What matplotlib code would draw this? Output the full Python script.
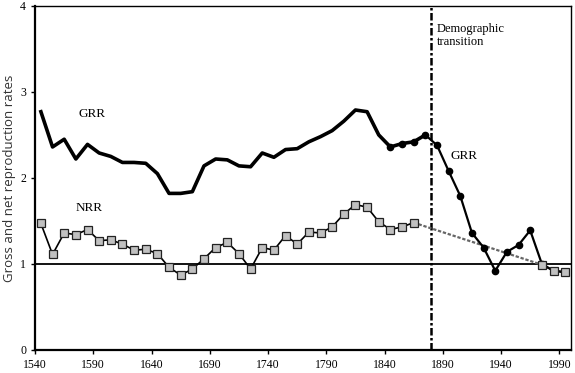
import matplotlib
matplotlib.use("Agg")
import matplotlib.pyplot as plt

# GRR (gross reproduction rate)
grr_years = [1545, 1555, 1565, 1575, 1585, 1595, 1605, 1615, 1625, 1635, 1645, 1655, 1665, 1675,
             1685, 1695, 1705, 1715, 1725, 1735, 1745, 1755, 1765, 1775, 1785, 1795, 1805, 1815,
             1825, 1835, 1845, 1855, 1865, 1875, 1885, 1895, 1905, 1915, 1925, 1935, 1945, 1955,
             1965, 1975, 1985, 1995]
grr_values = [2.77, 2.36, 2.45, 2.22, 2.39, 2.29, 2.25, 2.18, 2.18, 2.17, 2.05, 1.82, 1.82, 1.84,
              2.14, 2.22, 2.21, 2.14, 2.13, 2.29, 2.24, 2.33, 2.34, 2.42, 2.48, 2.55, 2.66, 2.79,
              2.77, 2.50, 2.36, 2.40, 2.42, 2.50, 2.38, 2.08, 1.79, 1.36, 1.19, 0.92, 1.14, 1.22,
              1.39, 1.00, 0.92, 0.90]
grr_marker_from = 1845

# NRR (net reproduction rate)
nrr_years = [1545, 1555, 1565, 1575, 1585, 1595, 1605, 1615, 1625, 1635, 1645, 1655, 1665, 1675,
             1685, 1695, 1705, 1715, 1725, 1735, 1745, 1755, 1765, 1775, 1785, 1795, 1805, 1815,
             1825, 1835, 1845, 1855, 1865]
nrr_values = [1.47, 1.11, 1.36, 1.34, 1.40, 1.27, 1.28, 1.23, 1.16, 1.17, 1.12, 0.96, 0.87, 0.94,
              1.06, 1.19, 1.25, 1.12, 0.94, 1.19, 1.16, 1.33, 1.23, 1.37, 1.36, 1.43, 1.58, 1.69,
              1.66, 1.49, 1.40, 1.43, 1.48]
nrr_late_years = [1975, 1985, 1995]
nrr_late_values = [0.99, 0.92, 0.91]

transition_year = 1880
xticks = [1540, 1590, 1640, 1690, 1740, 1790, 1840, 1890, 1940, 1990]
yticks = [0, 1, 2, 3, 4]

serif = ["Liberation Serif", "DejaVu Serif"]

fig = plt.figure(figsize=(5.75, 3.73), dpi=100)
ax = fig.add_axes([0.061, 0.062, 0.932, 0.922])

ax.axhline(1, color="black", lw=1.3, zorder=1)
ax.axvline(transition_year, color="black", lw=1.8, linestyle=(0, (3, 1, 1, 1)), zorder=1)

# GRR: thick part before transition, thinner with markers after
split = grr_years.index(1875)
ax.plot(grr_years[:split + 1], grr_values[:split + 1], color="black", lw=2.6, zorder=3,
        solid_joinstyle="round")
ax.plot(grr_years[split:], grr_values[split:], color="black", lw=1.6, zorder=3)
mk_idx = [i for i, y in enumerate(grr_years) if y >= grr_marker_from]
ax.plot([grr_years[i] for i in mk_idx], [grr_values[i] for i in mk_idx], linestyle="none",
        marker="o", markersize=4.5, color="black", zorder=4)

# NRR
ax.plot(nrr_years, nrr_values, color="black", lw=1.2, marker="s", markersize=6,
        markerfacecolor="#c0c0c0", markeredgecolor="#222222", markeredgewidth=0.9, zorder=5)
ax.plot([nrr_years[-1], nrr_late_years[0]], [nrr_values[-1], nrr_late_values[0]],
        color="#666666", lw=1.6, linestyle=(0, (1.5, 0.8)), zorder=2)
ax.plot(nrr_late_years, nrr_late_values, color="black", lw=1.2, marker="s", markersize=6,
        markerfacecolor="#c0c0c0", markeredgecolor="#222222", markeredgewidth=0.9, zorder=5)

ax.set_xlim(1540, 2000)
ax.set_ylim(0, 4)
ax.set_xticks(xticks)
ax.set_yticks(yticks)
ax.tick_params(direction="out", length=3, width=1, labelsize=8.5)
for lab in ax.get_xticklabels() + ax.get_yticklabels():
    lab.set_family(serif)
for s in ax.spines.values():
    s.set_linewidth(1.0)
ax.spines["left"].set_linewidth(1.6)
ax.spines["bottom"].set_linewidth(1.6)

ax.set_ylabel("Gross and net reproduction rates", fontsize=9.5, family=["Open Sans", "DejaVu Sans"],
              color="#333333", labelpad=3)

ax.text(1589, 2.74, "GRR", family=serif, fontsize=9.5, ha="center", va="center")
ax.text(1586, 1.65, "NRR", family=serif, fontsize=9.5, ha="center", va="center")
ax.text(1908, 2.25, "GRR", family=serif, fontsize=9.5, ha="center", va="center")
ax.text(1885, 3.80, "Demographic\ntransition", family=serif, fontsize=9, ha="left", va="top",
        linespacing=1.1)

fig.savefig("out.png", dpi=100)
